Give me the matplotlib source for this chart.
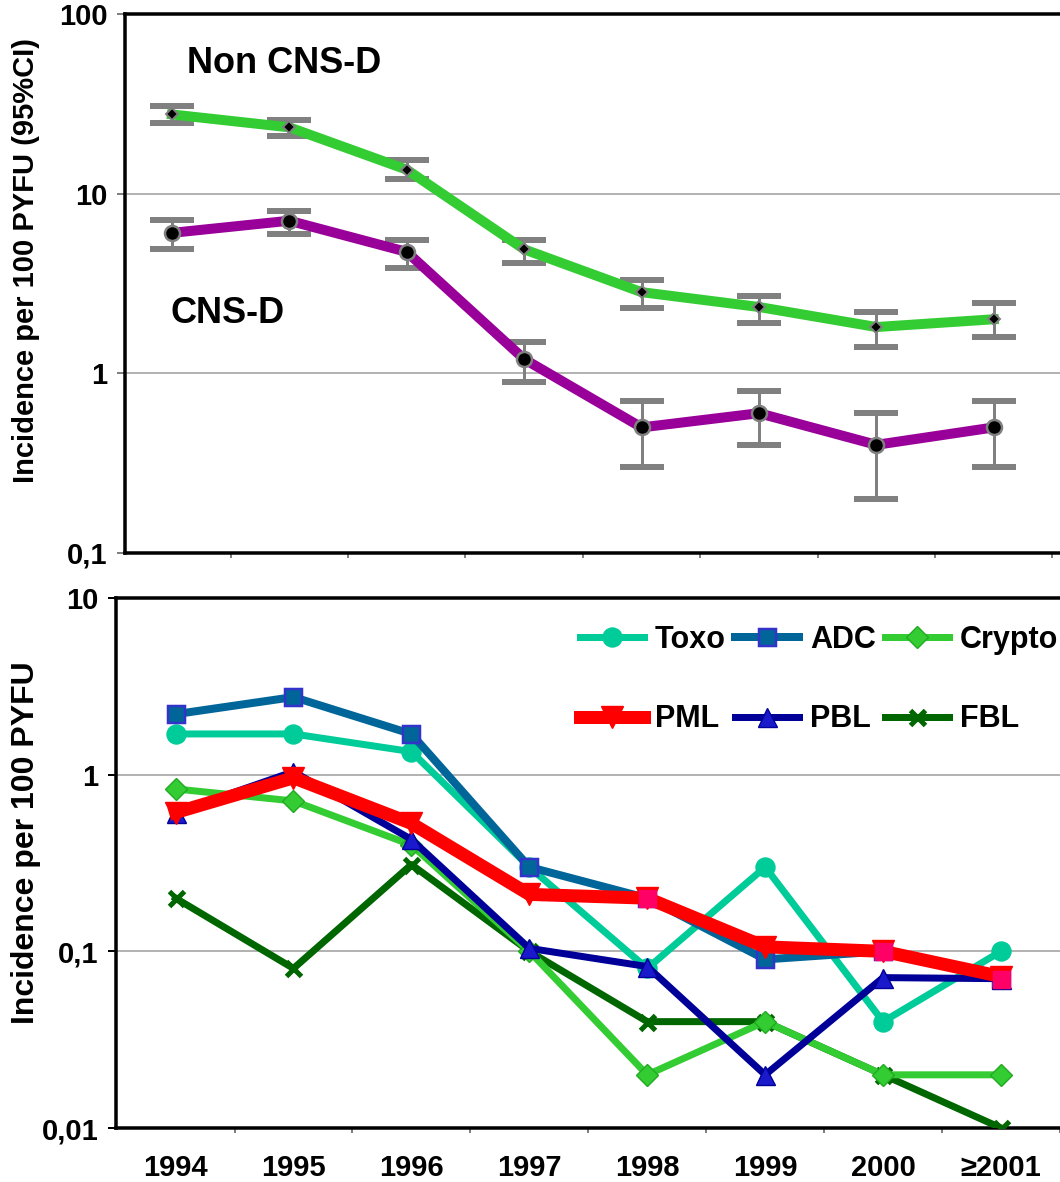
import numpy as np
import matplotlib
matplotlib.use("Agg")
import matplotlib.pyplot as plt
from matplotlib.ticker import FixedLocator, FixedFormatter, NullLocator

plt.rcParams['font.family'] = ['Liberation Sans', 'DejaVu Sans']
plt.rcParams['font.weight'] = 'bold'

# ---------------- data ----------------
years = ['1994', '1995', '1996', '1997', '1998', '1999', '2000', '\u22652001']

# top panel
non_cns = [27.6, 23.4, 13.6, 4.9, 2.83, 2.34, 1.81, 2.0]
non_cns_lo = [24.6, 21.0, 12.0, 4.1, 2.3, 1.9, 1.4, 1.6]
non_cns_hi = [30.6, 25.6, 15.3, 5.5, 3.3, 2.7, 2.2, 2.46]
cns = [6.05, 7.07, 4.74, 1.2, 0.5, 0.6, 0.4, 0.5]
cns_lo = [4.93, 6.0, 3.85, 0.89, 0.3, 0.4, 0.2, 0.3]
cns_hi = [7.16, 8.0, 5.5, 1.5, 0.7, 0.8, 0.6, 0.7]

# bottom panel
toxo = [1.7, 1.7, 1.35, 0.3, 0.08, 0.3, 0.04, 0.1]
adc = [2.2, 2.75, 1.7, 0.3, 0.2, 0.09, 0.1, 0.07]
crypto = [0.83, 0.71, 0.4, 0.1, 0.02, 0.04, 0.02, 0.02]
pml = [0.61, 0.96, 0.53, 0.21, 0.2, 0.106, 0.1, 0.072]
pbl = [0.61, 1.04, 0.43, 0.104, 0.082, 0.02, 0.071, 0.07]
fbl = [0.2, 0.08, 0.31, 0.1, 0.04, 0.04, 0.02, 0.01]
other = [np.nan, np.nan, np.nan, np.nan, 0.2, np.nan, 0.1, 0.07]

top_ticks = [0.1, 1, 10, 100]
top_ticklabels = ['0,1', '1', '10', '100']
bot_ticks = [0.01, 0.1, 1, 10]
bot_ticklabels = ['0,01', '0,1', '1', '10']

W, H = 1060, 1182
fig = plt.figure(figsize=(W / 100, H / 100), dpi=100)

x = np.arange(len(years))
PT = 0.72  # points per pixel at 100 dpi

# ---------------- top panel ----------------
ax1 = fig.add_axes([125 / W, 1 - 553 / H, (W - 125) / W, (553 - 14) / H])
ax1.set_yscale('log')
ax1.set_ylim(0.1, 100)
ax1.set_xlim(-0.40, 7.564)

grey = '#808080'
nc = np.array(non_cns)
c = np.array(cns)
ax1.errorbar(x, nc, yerr=[nc - np.array(non_cns_lo), np.array(non_cns_hi) - nc],
             fmt='none', ecolor=grey, elinewidth=3 * PT, capsize=22 * PT,
             capthick=6 * PT, zorder=2)
ax1.errorbar(x, c, yerr=[c - np.array(cns_lo), np.array(cns_hi) - c],
             fmt='none', ecolor=grey, elinewidth=3 * PT, capsize=22 * PT,
             capthick=6 * PT, zorder=2)
ax1.plot(x, nc, color='#33cc33', lw=10 * PT, marker='D', ms=9 * PT,
         mfc='black', mec=grey, mew=2 * PT, zorder=3, solid_joinstyle='round')
ax1.plot(x, c, color='#990099', lw=10 * PT, marker='o', ms=15 * PT,
         mfc='black', mec=grey, mew=2.5 * PT, zorder=3, solid_joinstyle='round')

ax1.text(0.170, 0.909, 'Non CNS-D', transform=ax1.transAxes, fontsize=26,
         fontweight='bold', ha='center', va='center')
ax1.text(0.110, 0.445, 'CNS-D', transform=ax1.transAxes, fontsize=26,
         fontweight='bold', ha='center', va='center')

ax1.set_ylabel('Incidence per 100 PYFU (95%CI)', fontsize=21, fontweight='bold',
               va='center')
ax1.yaxis.set_label_coords(-0.106, 0.542)

# ---------------- bottom panel ----------------
ax2 = fig.add_axes([116 / W, 1 - 1128 / H, (W - 116) / W, (1128 - 598) / H])
ax2.set_yscale('log')
ax2.set_ylim(0.01, 10)
ax2.set_xlim(-0.505, 7.447)

lw = 7 * PT
ax2.plot(x, fbl, color='#006600', lw=lw, marker='x', ms=15 * PT, mew=5 * PT,
         mec='#006600', label='FBL', zorder=3)
ax2.plot(x, crypto, color='#33cc33', lw=lw, marker='D', ms=15 * PT,
         mfc='#33cc33', mec='#22aa22', mew=1, label='Crypto', zorder=4)
ax2.plot(x, toxo, color='#00cc99', lw=lw, marker='o', ms=19 * PT,
         mfc='#00cc99', mec='#00cc99', label='Toxo', zorder=5)
ax2.plot(x, adc, color='#006699', lw=8 * PT, marker='s', ms=17 * PT,
         mfc='#006699', mec='#3333cc', mew=2.5 * PT, label='ADC', zorder=6)
ax2.plot(x, pbl, color='#000099', lw=lw, marker='^', ms=19 * PT,
         mfc='#1a1acc', mec='#000099', mew=1, label='PBL', zorder=7)
ax2.plot(x, pml, color='#ff0000', lw=13 * PT, marker='v', ms=22 * PT,
         mfc='#ff0000', mec='#ff0000', label='PML', zorder=8)
ax2.plot(x, other, linestyle='none', marker='s', ms=17 * PT,
         mfc='#ff0066', mec='#ff0066', zorder=9)

h, l = ax2.get_legend_handles_labels()
d = dict(zip(l, h))
order = ['Toxo', 'PML', 'ADC', 'PBL', 'Crypto', 'FBL']
leg = ax2.legend([d[k] for k in order], order, ncol=3, loc='upper left',
                 bbox_to_anchor=(0.4915, 0.9495), frameon=False,
                 prop={'size': 22, 'weight': 'bold'}, borderpad=0,
                 borderaxespad=0, handlelength=2.1, handletextpad=0.35,
                 columnspacing=0.3, labelspacing=1.62, numpoints=1)
leg.set_zorder(20)

ax2.set_ylabel('Incidence per 100 PYFU', fontsize=23, fontweight='bold',
               va='center')
ax2.yaxis.set_label_coords(-0.0953, 0.538)

# ---------------- axes styling ----------------
for ax, ticks, labels, tcol in [(ax1, top_ticks, top_ticklabels, grey),
                                (ax2, bot_ticks, bot_ticklabels, 'black')]:
    ax.yaxis.set_major_locator(FixedLocator(ticks))
    ax.yaxis.set_major_formatter(FixedFormatter(labels))
    ax.yaxis.set_minor_locator(NullLocator())
    ax.set_axisbelow(True)
    ax.yaxis.grid(True, color='#b3b3b3', lw=2 * PT)
    ax.xaxis.grid(False)
    for s in ['left', 'top', 'bottom']:
        ax.spines[s].set_linewidth(3.5 * PT)
        ax.spines[s].set_color('black')
    ax.spines['right'].set_visible(False)
    ax.tick_params(axis='y', which='major', length=8 * PT, width=2 * PT,
                   color=tcol, labelsize=21, pad=7)
    ax.set_xticks(x)
    ax.set_xticks(np.arange(len(years)) + 0.5, minor=True)
    ax.tick_params(axis='x', which='major', length=0, labelsize=21, pad=19)
    ax.tick_params(axis='x', which='minor', length=5 * PT, width=2 * PT,
                   color=grey)
    for t in ax.get_yticklabels() + ax.get_xticklabels():
        t.set_fontweight('bold')

ax1.set_xticklabels([])
ax2.set_xticklabels(years, fontweight='bold')

fig.savefig('out.png', dpi=100)
